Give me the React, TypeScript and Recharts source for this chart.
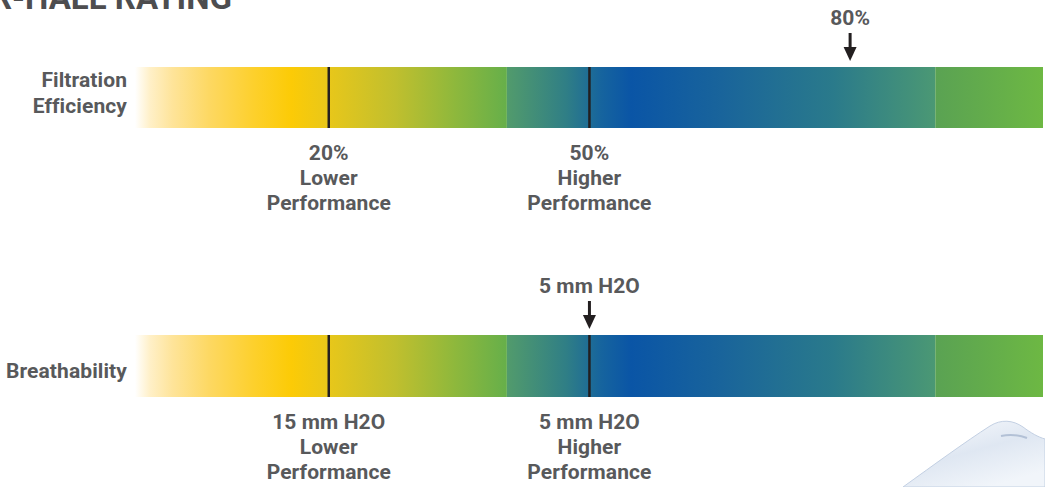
import React from "react";
import { BarChart, Bar, XAxis, YAxis, ReferenceLine } from "recharts";

// rating rows
const categories = ["Filtration Efficiency", "Breathability"];
// colour zone edges on the rating scale (shared by both rows)
const zoneBounds = [-2.3, 40.5, 89.8, 102.2];
const lowerMarks = [20, 20];
const higherMarks = [50, 50];
const ratingMarks = [80, 50];
const ratingLabels = ["80%", "5 mm H2O"];
const lowerLabels = ["20%", "15 mm H2O"];
const higherLabels = ["50%", "5 mm H2O"];
const lowerCaption = ["Lower", "Performance"];
const higherCaption = ["Higher", "Performance"];

const font = "Roboto, 'Noto Sans', sans-serif";
const textColor = "#58595b";
const ink = "#231f20";
const labelStyle = {
  fill: textColor,
  fontSize: 21,
  fontWeight: 700,
  fontFamily: font,
  letterSpacing: 0.1,
};

const zoneStops: [number, string][][] = [
  [
    [0, "#ffffff"],
    [0.04, "#fff0c8"],
    [0.1, "#fee49a"],
    [0.2, "#fdd862"],
    [0.32, "#fdd02c"],
    [0.42, "#fccb06"],
    [0.52, "#e8c71a"],
    [0.7, "#c0bf2e"],
    [0.86, "#8eb83c"],
    [1, "#66af4a"],
  ],
  [
    [0, "#529b6c"],
    [0.14, "#2f7e86"],
    [0.22, "#16649e"],
    [0.29, "#0a55a6"],
    [0.5, "#19649b"],
    [0.76, "#2a7a8b"],
    [1, "#4b9874"],
  ],
  [
    [0, "#5aa253"],
    [1, "#6db843"],
  ],
];

const rowLayout = [
  { top: 0, height: 243, margin: { top: 67, right: 2, bottom: 115, left: 0 } },
  { top: 243, height: 244, margin: { top: 92, right: 2, bottom: 90, left: 0 } },
];

function CategoryTick({ x, y, payload }: any) {
  const words = String(payload.value).split(" ");
  const first = words.length > 1 ? -10.5 : 12;
  return (
    <text x={x} y={y} textAnchor="end" {...labelStyle}>
      {words.map((w, i) => (
        <tspan key={i} x={x} dy={i === 0 ? first : 26}>
          {w}
        </tspan>
      ))}
    </text>
  );
}

const markShape = (lines: string[]) => (p: any) => {
  const x = p.x1;
  const top = Math.min(p.y1, p.y2);
  const bottom = Math.max(p.y1, p.y2);
  return (
    <g>
      <line x1={x} x2={x} y1={top} y2={bottom} stroke={ink} strokeWidth={2.5} />
      <text textAnchor="middle" {...labelStyle}>
        {lines.map((l, i) => (
          <tspan key={i} x={x} y={bottom + 32 + i * 25}>
            {l}
          </tspan>
        ))}
      </text>
    </g>
  );
};

const arrowShape = (label: string) => (p: any) => {
  const x = p.x1;
  const top = Math.min(p.y1, p.y2);
  return (
    <g>
      <line x1={x} x2={x} y1={top - 34} y2={top - 19} stroke={ink} strokeWidth={3} />
      <polygon
        points={`${x - 6.5},${top - 20} ${x + 6.5},${top - 20} ${x},${top - 6}`}
        fill={ink}
      />
      <text x={x} y={top - 42} textAnchor="middle" {...labelStyle}>
        {label}
      </text>
    </g>
  );
};

function RatingRow({ index }: { index: number }) {
  const box = rowLayout[index];
  const plotH = box.height - box.margin.top - box.margin.bottom;
  const data = [
    {
      name: categories[index],
      zone0: [zoneBounds[0], zoneBounds[1]],
      zone1: [zoneBounds[1], zoneBounds[2]],
      zone2: [zoneBounds[2], zoneBounds[3]],
    },
  ];
  return (
    <div style={{ position: "absolute", left: 0, top: box.top }}>
      <BarChart
        width={1045}
        height={box.height}
        data={data}
        layout="vertical"
        margin={box.margin}
        barCategoryGap={0}
        barGap={-plotH}
      >
        <defs>
          {zoneStops.map((stops, z) => (
            <linearGradient key={z} id={`zone-${index}-${z}`} x1="0" y1="0" x2="1" y2="0">
              {stops.map(([o, c], k) => (
                <stop key={k} offset={o} stopColor={c} />
              ))}
            </linearGradient>
          ))}
        </defs>
        <XAxis
          type="number"
          domain={[zoneBounds[0], zoneBounds[3]]}
          allowDataOverflow
          hide
        />
        <YAxis
          type="category"
          dataKey="name"
          width={135}
          axisLine={false}
          tickLine={false}
          tick={<CategoryTick />}
        />
        {zoneStops.map((_, z) => (
          <Bar
            key={z}
            dataKey={`zone${z}`}
            fill={`url(#zone-${index}-${z})`}
            isAnimationActive={false}
          />
        ))}
        <ReferenceLine
          x={lowerMarks[index]}
          shape={markShape([lowerLabels[index], ...lowerCaption])}
        />
        <ReferenceLine
          x={higherMarks[index]}
          shape={markShape([higherLabels[index], ...higherCaption])}
        />
        <ReferenceLine x={ratingMarks[index]} shape={arrowShape(ratingLabels[index])} />
      </BarChart>
    </div>
  );
}

export default function App() {
  return (
    <div style={{ position: "relative", width: 1045, height: 487, overflow: "hidden", background: "#fff" }}>
      <style>{"body{margin:0}"}</style>
      <svg width={1045} height={20} style={{ position: "absolute", left: 0, top: 0 }}>
        <text
          x={232}
          y={9}
          textAnchor="end"
          fill="#4d4d4f"
          fontSize={33}
          fontWeight={700}
          fontFamily={font}
        >
          R-HALL RATING
        </text>
      </svg>
      {/* decorative mask silhouette, bottom right */}
      <svg width={150} height={75} style={{ position: "absolute", left: 895, top: 412 }}>
        <defs>
          <linearGradient id="mound" x1="0" y1="0" x2="0.6" y2="1">
            <stop offset="0" stopColor="#fbfcfe" />
            <stop offset="0.55" stopColor="#dfe7f2" />
            <stop offset="1" stopColor="#f1f5fa" />
          </linearGradient>
        </defs>
        <path
          d="M8,75 C40,52 70,30 95,14 C106,7 118,8 128,15 C136,21 143,25 150,27 L150,75 Z"
          fill="url(#mound)"
          stroke="#c3d0e3"
          strokeWidth={1}
        />
        <path d="M106,24 C115,22 124,23 132,26" stroke="#b3c1d6" strokeWidth={2} fill="none" />
      </svg>
      <RatingRow index={0} />
      <RatingRow index={1} />
    </div>
  );
}
